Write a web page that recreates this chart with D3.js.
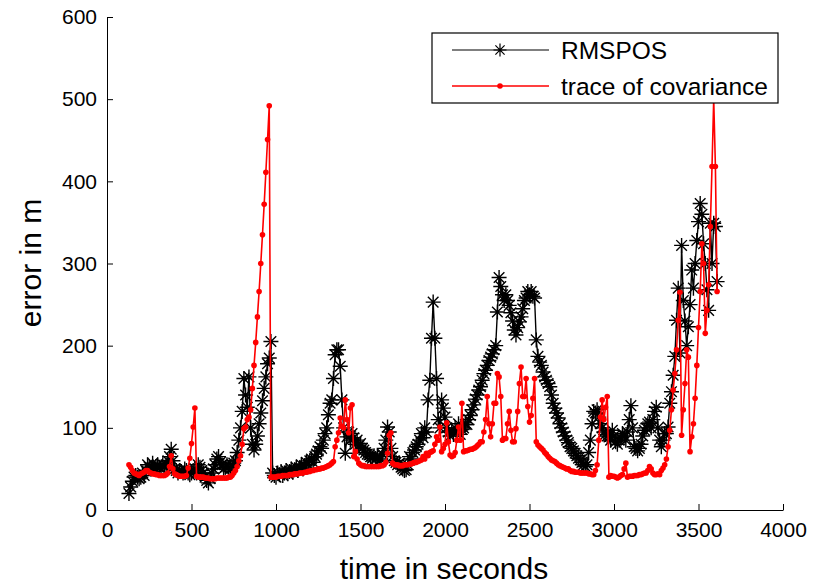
<!DOCTYPE html>
<html>
<head>
<meta charset="utf-8">
<script src="https://cdn.jsdelivr.net/npm/d3@7"></script>
<style>
html,body{margin:0;padding:0;background:#fff;}
svg{display:block;font-family:"Liberation Sans",Arial,sans-serif;}
</style>
</head>
<body>
<svg id="chart" width="816" height="585"></svg>
<script>
// sample times (s): 130 .. 3610, every 10 s
const startTime = 130;
const timeStep = 10;

// RMSPOS (m)
const rmspos = [
  20, 28, 35, 40, 42, 40, 38, 40, 45, 42,
  48, 55, 52, 50, 57, 50, 53, 55, 52, 50,
  55, 52, 55, 60, 65, 74, 60, 50, 48, 45,
  48, 47, 45, 50, 48, 45, 43, 45, 48, 50,
  45, 55, 52, 48, 45, 40, 36, 33, 38, 45,
  50, 55, 62, 65, 58, 55, 50, 52, 55, 52,
  50, 55, 57, 60, 70, 85, 100, 120, 160, 140,
  125, 162, 100, 80, 73, 80, 90, 105, 118, 133,
  148, 162, 178, 185, 205, 45, 42, 40, 45, 43,
  47, 42, 45, 48, 44, 47, 50, 46, 49, 52,
  48, 51, 55, 50, 54, 58, 55, 60, 62, 58,
  65, 68, 72, 77, 75, 85, 93, 100, 116, 130,
  134, 160, 189, 195, 195, 175, 134, 100, 69, 89,
  95, 85, 93, 88, 80, 85, 78, 81, 75, 73,
  70, 68, 67, 65, 63, 66, 62, 65, 60, 62,
  68, 75, 85, 101, 95, 75, 65, 60, 58, 55,
  57, 52, 50, 48, 49, 55, 65, 62, 70, 73,
  77, 80, 85, 93, 88, 100, 95, 134, 158, 209,
  253, 209, 160, 110, 100, 134, 124, 113, 100, 95,
  90, 97, 92, 100, 95, 105, 92, 98, 100, 104,
  104, 110, 115, 122, 128, 135, 140, 146, 150, 158,
  166, 170, 176, 182, 186, 190, 195, 200, 241, 283,
  272, 262, 255, 262, 255, 249, 240, 230, 219, 213,
  222, 229, 235, 245, 255, 258, 266, 262, 266, 260,
  258, 207, 187, 180, 176, 168, 162, 158, 154, 150,
  140, 130, 124, 118, 112, 105, 100, 95, 90, 85,
  82, 77, 75, 72, 69, 66, 63, 61, 58, 55,
  53, 55, 70, 85, 105, 120, 118, 122, 113, 105,
  100, 95, 92, 90, 89, 85, 97, 90, 83, 80,
  85, 88, 93, 90, 85, 95, 110, 127, 100, 77,
  75, 72, 75, 80, 90, 97, 100, 105, 107, 100,
  110, 120, 125, 100, 85, 77, 85, 93, 93, 101,
  130, 144, 164, 187, 231, 270, 191, 322, 255, 230,
  200, 223, 250, 292, 270, 300, 328, 351, 373, 360,
  324, 300, 268, 243, 349, 300, 349, 345, 278
];

// trace of covariance (m)
const traceCov = [
  55, 52, 48, 45, 44, 43, 42, 44, 45, 46,
  48, 48, 46, 45, 44, 44, 43, 43, 42, 42,
  42, 42, 43, 45, 53, 66, 50, 44, 43, 42,
  41, 41, 41, 41, 42, 51, 63, 81, 101, 124,
  41, 40, 40, 40, 40, 39, 39, 39, 38, 38,
  38, 38, 39, 39, 39, 39, 39, 39, 39, 40,
  40, 42, 45, 48, 53, 60, 66, 80, 99, 101,
  110, 113, 122, 148, 176, 204, 235, 266, 300, 335,
  372, 411, 451, 492, 40, 40, 40, 40, 41, 41,
  41, 42, 42, 42, 42, 43, 43, 43, 44, 44,
  44, 45, 45, 45, 46, 46, 47, 47, 48, 48,
  49, 49, 50, 50, 51, 51, 52, 53, 54, 55,
  57, 59, 77, 85, 94, 112, 102, 100, 134, 110,
  94, 124, 128, 65, 71, 62, 57, 55, 54, 54,
  53, 53, 53, 53, 53, 53, 53, 53, 53, 54,
  54, 55, 58, 69, 91, 94, 57, 55, 55, 55,
  54, 54, 54, 55, 55, 55, 56, 56, 57, 58,
  58, 59, 60, 61, 65, 62, 69, 66, 70, 71,
  72, 80, 89, 85, 101, 71, 75, 80, 106, 83,
  67, 65, 66, 70, 85, 101, 85, 130, 71, 72,
  72, 73, 74, 74, 75, 76, 78, 80, 83, 83,
  95, 110, 138, 105, 89, 105, 130, 130, 166, 162,
  138, 85, 87, 87, 105, 120, 97, 83, 83, 99,
  120, 154, 174, 138, 138, 160, 126, 107, 115, 136,
  160, 83, 79, 77, 75, 73, 70, 68, 65, 63,
  61, 60, 59, 57, 55, 54, 53, 52, 51, 50,
  50, 48, 47, 47, 46, 46, 46, 45, 45, 45,
  45, 45, 44, 44, 43, 43, 48, 55, 85, 113,
  134, 110, 125, 138, 40, 42, 41, 41, 40, 39,
  40, 42, 43, 50, 57, 40, 41, 41, 41, 42,
  42, 42, 43, 43, 44, 45, 45, 48, 53, 50,
  45, 43, 43, 44, 43, 48, 51, 55, 62, 77,
  97, 122, 146, 166, 195, 231, 265, 91, 122, 154,
  195, 186, 71, 89, 105, 136, 176, 222, 266, 324,
  300, 215, 243, 274, 345, 418, 500, 418, 266
];

const xTicks = [0, 500, 1000, 1500, 2000, 2500, 3000, 3500, 4000];
const yTicks = [0, 100, 200, 300, 400, 500, 600];
const seriesNames = ["RMSPOS", "trace of covariance"];
const xTitle = "time in seconds";
const yTitle = "error in m";

const times = rmspos.map((_, i) => startTime + i * timeStep);

const svg = d3.select("#chart");
const L = 107, R = 783, T = 17, B = 510;
const x = d3.scaleLinear().domain([0, 4000]).range([L, R]);
const y = d3.scaleLinear().domain([0, 600]).range([B, T]);

// axes (inward ticks, MATLAB style)
const xAxis = d3.axisBottom(x).tickValues(xTicks).tickFormat(d3.format("d"))
  .tickSizeInner(-6).tickSizeOuter(0).tickPadding(12);
const yAxis = d3.axisLeft(y).tickValues(yTicks).tickFormat(d3.format("d"))
  .tickSizeInner(-6).tickSizeOuter(0).tickPadding(10);

const gx = svg.append("g").attr("transform", `translate(0,${B})`).call(xAxis);
const gy = svg.append("g").attr("transform", `translate(${L},0)`).call(yAxis);
[gx, gy].forEach(g => {
  g.select(".domain").attr("stroke", "#000").attr("stroke-width", 1);
  g.selectAll(".tick line").attr("stroke", "#000");
  g.selectAll(".tick text").attr("font-size", 21).attr("fill", "#000")
    .attr("font-family", "Liberation Sans, Arial, sans-serif");
});

// titles
svg.append("text").attr("x", 444).attr("y", 579).attr("text-anchor", "middle")
  .attr("font-size", 30).text(xTitle);
svg.append("text").attr("transform", "translate(41,263) rotate(-90)")
  .attr("text-anchor", "middle").attr("font-size", 30).text(yTitle);

// star marker path
function starPath(s) {
  const d = s * 0.7071;
  return `M${-s},0L${s},0M0,${-s}L0,${s}M${-d},${-d}L${d},${d}M${-d},${d}L${d},${-d}`;
}

const blackData = times.map((t, i) => [t, rmspos[i]]);
const redData = times.map((t, i) => [t, traceCov[i]]);
const line = d3.line().x(d => x(d[0])).y(d => y(d[1]));

const plot = svg.append("g");
plot.append("path").datum(blackData).attr("d", line)
  .attr("fill", "none").attr("stroke", "#000").attr("stroke-width", 1.4);
plot.selectAll("path.star").data(blackData).enter().append("path")
  .attr("class", "star")
  .attr("transform", d => `translate(${x(d[0])},${y(d[1])})`)
  .attr("d", starPath(7.5)).attr("stroke", "#000").attr("stroke-width", 1.4).attr("fill", "none");

plot.append("path").datum(redData).attr("d", line)
  .attr("fill", "none").attr("stroke", "#ff0000").attr("stroke-width", 1.6);
plot.selectAll("circle.dot").data(redData).enter().append("circle")
  .attr("class", "dot")
  .attr("cx", d => x(d[0])).attr("cy", d => y(d[1])).attr("r", 2.8)
  .attr("fill", "#ff0000");

// legend
const lg = svg.append("g");
lg.append("rect").attr("x", 432).attr("y", 33).attr("width", 346).attr("height", 70)
  .attr("fill", "#fff").attr("stroke", "#000").attr("stroke-width", 1.2);
const rows = [
  {name: seriesNames[0], color: "#000", yy: 50, marker: "star"},
  {name: seriesNames[1], color: "#ff0000", yy: 86, marker: "dot"}
];
rows.forEach(r => {
  lg.append("line").attr("x1", 452).attr("x2", 549).attr("y1", r.yy).attr("y2", r.yy)
    .attr("stroke", r.color).attr("stroke-width", r.marker === "dot" ? 1.5 : 1.2);
  if (r.marker === "star") {
    lg.append("path").attr("transform", `translate(500,${r.yy})`).attr("d", starPath(6.5))
      .attr("stroke", "#000").attr("stroke-width", 1.2).attr("fill", "none");
  } else {
    lg.append("circle").attr("cx", 500).attr("cy", r.yy).attr("r", 2.8).attr("fill", "#ff0000");
  }
  lg.append("text").attr("x", 561).attr("y", r.yy + 9).attr("font-size", 24.5)
    .attr("fill", "#000").text(r.name);
});
</script>
</body>
</html>
